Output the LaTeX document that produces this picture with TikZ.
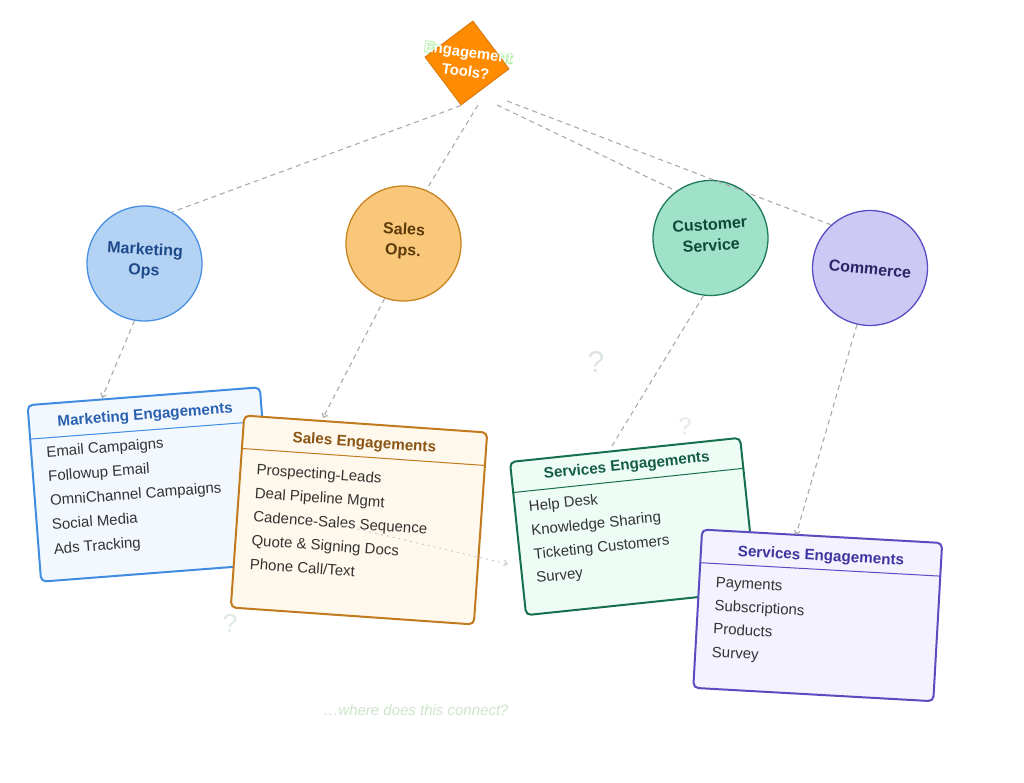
\documentclass[tikz,border=0pt]{standalone}
\usepackage{fontspec}
\setmainfont{Liberation Sans}
\usetikzlibrary{shapes.geometric,arrows.meta}
\definecolor{mkB}{HTML}{4A90E2}\definecolor{mkF}{HTML}{B4D3F4}\definecolor{mkX}{HTML}{1E4A8A}
\definecolor{mkBF}{HTML}{F3F8FE}\definecolor{mkBB}{HTML}{3F8CE0}\definecolor{mkT}{HTML}{2A62B0}
\definecolor{slB}{HTML}{C8841F}\definecolor{slF}{HTML}{F9C77A}\definecolor{slX}{HTML}{5C3A08}
\definecolor{slBF}{HTML}{FFF8EC}\definecolor{slBB}{HTML}{C27A1E}\definecolor{slT}{HTML}{8A5514}
\definecolor{csB}{HTML}{1D7A58}\definecolor{csF}{HTML}{A0E1C9}\definecolor{csX}{HTML}{0D4A3A}
\definecolor{csBF}{HTML}{EEFCF6}\definecolor{csBB}{HTML}{16704F}\definecolor{csT}{HTML}{155E45}
\definecolor{cmB}{HTML}{5A4CC4}\definecolor{cmF}{HTML}{CDC9F5}\definecolor{cmX}{HTML}{2B2466}
\definecolor{cmBF}{HTML}{F4F2FE}\definecolor{cmBB}{HTML}{5A4CC0}\definecolor{cmT}{HTML}{3F35A0}
\definecolor{diaF}{HTML}{FF8C00}\definecolor{diaB}{HTML}{D9770A}\definecolor{haloC}{HTML}{AAF0A0}
\definecolor{itemC}{HTML}{333333}\definecolor{linkC}{HTML}{AAAAAA}\definecolor{dotC}{HTML}{C8C8C8}
\definecolor{qA}{HTML}{DCE4DC}\definecolor{qB}{HTML}{E4EBE4}\definecolor{qC}{HTML}{DFEAE2}
\definecolor{noteC}{HTML}{CDE4CA}
\newcommand{\strokeon}{\special{pdf:literal direct 1 Tr 1.6 w}}
\newcommand{\strokeoff}{\special{pdf:literal direct 0 Tr}}
\begin{document}
\begin{tikzpicture}[x=1pt,y=-1pt,
  every node/.style={inner sep=0pt},
  circ/.style={circle, minimum size=115pt, line width=1.3pt},
  ctext/.style={font=\fontsize{16}{21}\selectfont\bfseries, align=center},
  link/.style={draw=linkC, line width=1.1pt, dash pattern=on 5pt off 4pt},
  dotline/.style={draw=dotC, line width=0.9pt, dash pattern=on 2pt off 4pt},
  arr/.style={-{Straight Barb[length=3.5pt,width=6pt]}},
  ebox/.style={rectangle, rounded corners=5pt, line width=2pt},
  etitle/.style={font=\fontsize{15.2}{17}\selectfont\bfseries, anchor=base},
  eitem/.style={font=\fontsize{15}{17}\selectfont, anchor=base west, text=itemC},
  dtext/.style={font=\fontsize{14.8}{19.5}\selectfont\bfseries, align=center, rotate=-8},
  qmark/.style={font=\fontsize{30}{32}\selectfont}
]
\useasboundingbox (0,0) rectangle (1024,783);

% green outline of the diamond text (visible only outside the diamond)
\node[dtext, text=haloC] (halo) at (467,62) {\strokeon Engagement\\\strokeon Tools?\strokeoff};

% circles
\node[circ, draw=mkB, fill=mkF] (mk) at (144.5,263.5) {};
\node[circ, draw=slB, fill=slF] (sl) at (403.5,243.5) {};
\node[circ, draw=csB, fill=csF] (cs) at (710.5,238) {};
\node[circ, draw=cmB, fill=cmF] (cm) at (870,268) {};
\node[ctext, text=mkX, rotate=-3] (mkl) at (144.5,261) {Marketing\\Ops};
\node[ctext, text=slX, rotate=-3] (sll) at (403.5,241) {Sales\\Ops.};
\node[ctext, text=csX, rotate=4] (csl) at (710.5,235) {Customer\\Service};
\node[ctext, text=cmX, rotate=-6] (cml) at (870,269) {Commerce};

% diamond
\node[diamond, draw=diaB, fill=diaF, minimum width=85pt, minimum height=85pt, rotate=-8, line width=0.9pt] (dia) at (467,63) {};
\node[dtext, text=white] (diat) at (467,62) {Engagement\\Tools?};

\coordinate (d2) at (478,105);
\coordinate (d3) at (497,105);
\coordinate (d4) at (507,101);
\draw[link] (dia.south) -- (mk.62);
\draw[link] (d2) -- (sl.67);
\draw[link] (d3) -- (cs.126);
\draw[link] (d4) -- (cm.132);

% question marks
\node[qmark, text=qA] (q1) at (596,362) {?};
\node[qmark, text=qB, font=\fontsize{24}{26}\selectfont] (q2) at (685,426) {?};
\node[qmark, text=qC, font=\fontsize{26}{28}\selectfont] (q3) at (230,623) {?};

% Marketing box
\begin{scope}[shift={(150.5,484.5)}, rotate=4.4, transform shape]
  \node[ebox, draw=mkBB, fill=mkBF, minimum width=233pt, minimum height=177pt] (mkbox) at (0,0) {};
  \draw[mkBB, line width=1pt] (-116.5,-54.5) -- (116.5,-54.5);
  \node[etitle, text=mkT] (mkt) at (0,-65.2) {Marketing Engagements};
  \node[eitem] (mk1) at (-101.5,-35.2) {Email Campaigns};
  \node[eitem] (mk2) at (-101.5,-10.9) {Followup Email};
  \node[eitem] (mk3) at (-101.5,13.4) {OmniChannel Campaigns};
  \node[eitem] (mk4) at (-101.5,37.7) {Social Media};
  \node[eitem] (mk5) at (-101.5,62.0) {Ads Tracking};
\end{scope}

% Sales box
\begin{scope}[shift={(359,520)}, rotate=-4, transform shape]
  \node[ebox, draw=slBB, fill=slBF, minimum width=243.6pt, minimum height=192.4pt] (slbox) at (0,0) {};
  \draw[slBB, line width=1pt] (-121.8,-63.2) -- (121.8,-63.2);
  \node[etitle, text=slT] (slt) at (0,-72.8) {Sales Engagements};
  \node[eitem] (sl1) at (-105.8,-38.2) {Prospecting-Leads};
  \node[eitem] (sl2) at (-105.8,-14.45) {Deal Pipeline Mgmt};
  \node[eitem] (sl3) at (-105.8,9.3) {Cadence-Sales Sequence};
  \node[eitem] (sl4) at (-105.8,33.05) {Quote \& Signing Docs};
  \node[eitem] (sl5) at (-105.8,56.8) {Phone Call/Text};
\end{scope}

\coordinate (sdot) at (340,525);
\coordinate (gin) at (508,564);
\draw[dotline, arr] (sdot) -- (gin);

% Customer service box
\begin{scope}[shift={(633.1,526.5)}, rotate=6, transform shape]
  \node[ebox, draw=csBB, fill=csBF, minimum width=231.4pt, minimum height=154pt] (csbox) at (0,0) {};
  \draw[csBB, line width=1pt] (-115.7,-46.3) -- (115.7,-46.3);
  \node[etitle, text=csT] (cst) at (0,-56.6) {Services Engagements};
  \node[eitem] (cs1) at (-101.7,-25.6) {Help Desk};
  \node[eitem] (cs2) at (-101.7,-1.7) {Knowledge Sharing};
  \node[eitem] (cs3) at (-101.7,22.2) {Ticketing Customers};
  \node[eitem] (cs4) at (-101.7,46.1) {Survey};
\end{scope}

% Commerce box
\begin{scope}[shift={(817.7,615.4)}, rotate=-3.2, transform shape]
  \node[ebox, draw=cmBB, fill=cmBF, minimum width=240.4pt, minimum height=158.5pt] (cmbox) at (0,0) {};
  \draw[cmBB, line width=1pt] (-120.2,-46.05) -- (120.2,-46.05);
  \node[etitle, text=cmT] (cmt) at (0,-54.75) {Services Engagements};
  \node[eitem] (cm1) at (-103.7,-22.35) {Payments};
  \node[eitem] (cm2) at (-103.7,0.95) {Subscriptions};
  \node[eitem] (cm3) at (-103.7,24.25) {Products};
  \node[eitem] (cm4) at (-103.7,47.55) {Survey};
\end{scope}

% circle to box connectors
\coordinate (mkin) at (102,398);
\coordinate (slin) at (323,418);
\coordinate (csin) at (612,446);
\coordinate (cmin) at (796,535);
\draw[link, arr] (mk.260) -- (mkin);
\draw[link, arr] (sl.251) -- (slin);
\draw[link] (cs.263) -- (csin);
\draw[link, arr] (cm.257) -- (cmin);

% note
\node[font=\fontsize{15}{17}\selectfont\itshape, text=noteC] (note) at (416,710) {\ldots where does this connect?};
\end{tikzpicture}
\end{document}
